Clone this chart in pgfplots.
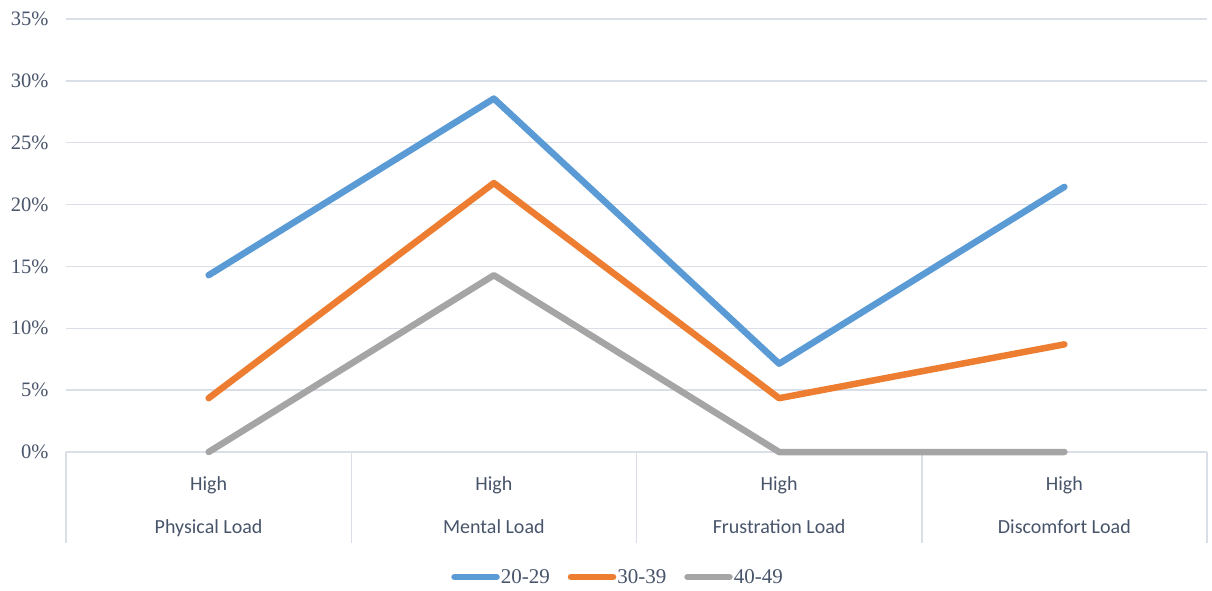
\documentclass[border=0pt]{standalone}
\usepackage{pgfplots}
\pgfplotsset{compat=1.18}
\usepackage{fontspec}
\setmainfont{Liberation Serif}
\newfontfamily\calibri{Carlito}
\definecolor{cblue}{HTML}{5B9BD5}
\definecolor{corange}{HTML}{ED7D31}
\definecolor{cgray}{HTML}{A5A5A5}
\definecolor{gridc}{RGB}{217,222,231}
\definecolor{txt}{RGB}{72,84,106}
\begin{document}
\begin{tikzpicture}
\useasboundingbox (-66pt,-138pt) rectangle (1146pt,452pt);
\begin{axis}[
  at={(0,0)}, anchor=south west,
  scale only axis, width=1141pt, height=433pt,
  xmin=-0.5, xmax=3.5, ymin=0, ymax=35,
  clip=false,
  axis line style={draw=none},
  tick style={draw=none},
  major tick length=0pt,
  ytick={0,5,...,35},
  yticklabel={\pgfmathprintnumber{\tick}\%},
  /pgf/number format/assume math mode=true,
  yticklabel style={font=\fontsize{20.5}{24}\selectfont, text=txt, anchor=east, xshift=-14pt},
  ymajorgrids,
  grid style={line width=1.5pt, color=gridc},
  xtick={0,1,2,3},
  xticklabels={{High\\[19pt]Physical Load},{High\\[19pt]Mental Load},{High\\[19pt]Frustration Load},{High\\[19pt]Discomfort Load}},
  xticklabel style={font=\calibri\fontsize{20}{24}\selectfont, text=txt, align=center, anchor=north, yshift=-21pt},
  legend columns=3,
  legend style={at={(rel axis cs:0.486,0)}, anchor=center, yshift=-125pt, xshift=-3pt, draw=none, fill=none,
    font=\fontsize{21}{24}\selectfont, text=txt, inner sep=0pt, nodes={inner sep=1pt},
    /tikz/every even column/.append style={column sep=17pt}},
  legend image code/.code={\draw[#1, line width=6.5pt, line cap=round] (3pt,0pt) -- (45pt,0pt);},
  every axis plot/.append style={line width=6.5pt, line cap=round, line join=round, mark=none},
]
\pgfplotsinvokeforeach{-0.5,0.5,1.5,2.5,3.5}{
  \draw[gridc, line width=1.5pt] (axis cs:#1,0) -- ++(0pt,-91pt);
}
\addplot[cblue] coordinates {(0,14.29) (1,28.57) (2,7.14) (3,21.43)};
\addlegendentry{20-29}
\addplot[corange] coordinates {(0,4.35) (1,21.74) (2,4.35) (3,8.70)};
\addlegendentry{30-39}
\addplot[cgray] coordinates {(0,0) (1,14.29) (2,0) (3,0)};
\addlegendentry{40-49}
\end{axis}
\end{tikzpicture}
\end{document}
